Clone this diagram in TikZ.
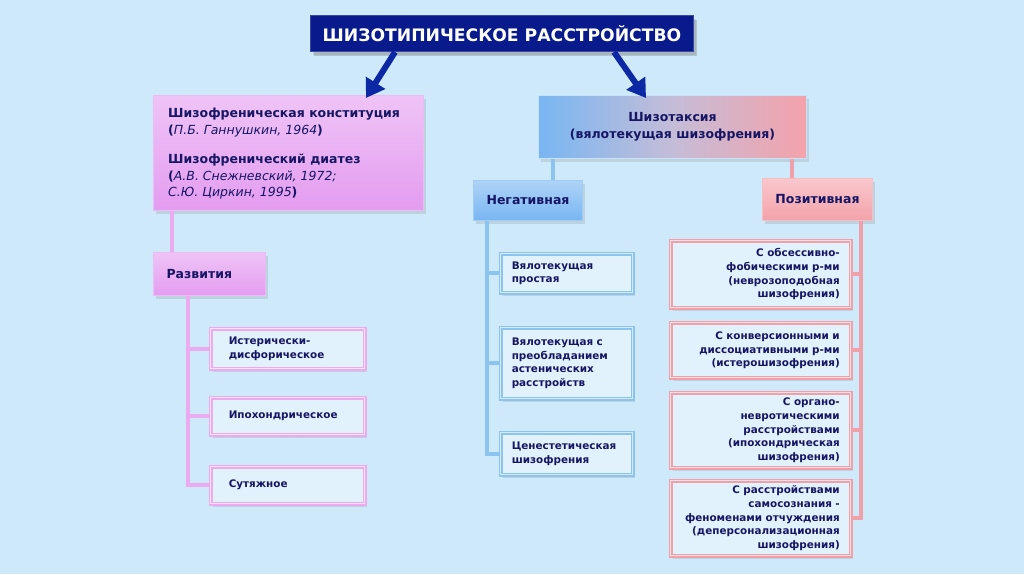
\documentclass[tikz,border=0pt]{standalone}
\usepackage{fontspec}
\setmainfont{DejaVu Sans}
\usetikzlibrary{shadows,arrows.meta,calc}
\definecolor{bg}{RGB}{206,234,250}
\definecolor{navy}{RGB}{22,22,100}
\definecolor{ttl}{RGB}{8,26,140}
\definecolor{arr}{RGB}{12,40,165}
\definecolor{pinkf}{RGB}{228,156,240}
\definecolor{pinkl}{RGB}{236,170,240}
\definecolor{bluef}{RGB}{120,182,242}
\definecolor{bluel}{RGB}{140,196,240}
\definecolor{rosef}{RGB}{244,162,170}
\definecolor{rosel}{RGB}{240,160,168}
\tikzset{
  base/.style={rectangle, inner sep=0pt, text=navy, anchor=north west,
    drop shadow={opacity=0.22, shadow xshift=2pt, shadow yshift=-3pt}},
  bigfont/.style={font=\bfseries\fontsize{12.5}{16.8}\selectfont},
  smallfont/.style={font=\bfseries\fontsize{10.4}{13.6}\selectfont},
  mainpink/.style={base, bigfont, top color=pinkf!60!white, bottom color=pinkf, draw=pinkf!70!white, line width=1pt},
  mainblue/.style={base, bigfont, top color=bluef!60!white, bottom color=bluef, draw=bluef!70!white, line width=1pt},
  mainrose/.style={base, bigfont, top color=rosef!60!white, bottom color=rosef, draw=rosef!70!white, line width=1pt},
  kidpink/.style={base, smallfont, fill=bg!60!white, draw=pinkl, double=pinkl!35!white, double distance=1.2pt, line width=1.5pt, align=left, inner xsep=18pt},
  kidblue/.style={base, smallfont, fill=bg!60!white, draw=bluel, double=bluel!35!white, double distance=1.2pt, line width=1.5pt, align=left, inner xsep=11pt},
  kidrose/.style={base, smallfont, fill=bg!60!white, draw=rosel, double=rosel!35!white, double distance=1.2pt, line width=1.5pt, align=right, inner xsep=11pt},
  pinkline/.style={draw=pinkl, line width=4pt},
  blueline/.style={draw=bluel, line width=4pt},
  roseline/.style={draw=rosel, line width=4pt},
  bigarrow/.style={draw=arr, line width=6pt, -{Triangle[length=18pt,width=22pt]}},
}
\begin{document}
\begin{tikzpicture}[x=1pt,y=-1pt]
\fill[bg] (0,0) rectangle (1024,574);
\useasboundingbox (0,0) rectangle (1024,574);

% title
\node[base, fill=ttl, draw=ttl!80!white, line width=1pt, text=white, minimum width=383pt, minimum height=36pt,
  font=\bfseries\fontsize{17.2}{20}\selectfont,
  drop shadow={opacity=0.35, shadow xshift=3pt, shadow yshift=-4pt}] (tt) at (310,15) {ШИЗОТИПИЧЕСКОЕ РАССТРОЙСТВО};

% left branch
\node[mainpink, minimum width=270pt, minimum height=115pt] (pk) at (153,95) {};
\node[text=navy, anchor=north west, inner sep=0pt, align=left, bigfont] (pkt) at (168,108) {%
Шизофреническая конституция\\
(\textmd{\itshape П.Б. Ганнушкин, 1964})\\[12pt]
Шизофренический диатез\\
(\textmd{\itshape А.В. Снежневский, 1972;}\\
\textmd{\itshape С.Ю. Циркин, 1995})};

\node[mainpink, minimum width=112pt, minimum height=43pt, align=left, text width=86pt, inner xsep=13pt] (rz) at (153,252) {Развития};

\node[kidpink, minimum height=40pt, text width=118pt] (c1) at (210,328) {Истерически-\\дисфорическое};
\node[kidpink, minimum height=37pt, text width=118pt] (c2) at (210,397) {Ипохондрическое};
\node[kidpink, minimum height=37pt, text width=118pt] (c3) at (210,466) {Сутяжное};

\draw[pinkline] ([xshift=19pt]pk.south west) -- ([xshift=19pt]rz.north west);
\coordinate (lt) at ([xshift=35pt]rz.south west);
\draw[pinkline] (lt) |- (c3.west);
\draw[pinkline] (c1.west) -- (c1.west -| lt);
\draw[pinkline] (c2.west) -- (c2.west -| lt);

% right branch
\node[base, bigfont, left color=bluef, right color=rosef, middle color=bluef!50!rosef!80!white, draw=white!60!bluef, line width=1pt,
  minimum width=268pt, minimum height=63pt, align=center] (sz) at (538,95) {Шизотаксия\\(вялотекущая шизофрения)};

\node[mainblue, minimum width=109pt, minimum height=40pt] (ng) at (473,180) {Негативная};
\node[mainrose, minimum width=110pt, minimum height=42pt] (pz) at (762,178) {Позитивная};

\draw[blueline] ([xshift=15pt]sz.south west) -- ([xshift=15pt]sz.south west |- ng.north);
\draw[roseline] ([xshift=-15pt]sz.south east) -- ([xshift=-15pt]sz.south east |- pz.north);

\node[kidblue, minimum height=39pt, text width=110pt] (b1) at (500,253) {Вялотекущая\\простая};
\node[kidblue, minimum height=71pt, text width=110pt] (b2) at (500,327) {Вялотекущая с\\преобладанием\\астенических\\расстройств};
\node[kidblue, minimum height=42pt, text width=110pt] (b3) at (500,432) {Ценестетическая\\шизофрения};

\coordinate (lb) at ([xshift=14pt]ng.south west);
\draw[blueline] (lb) |- (b3.west);
\draw[blueline] (b1.west) -- (b1.west -| lb);
\draw[blueline] (b2.west) -- (b2.west -| lb);

\node[kidrose, minimum height=67pt, text width=158pt] (r1) at (670,240) {С обсессивно-\\фобическими р-ми\\(неврозоподобная\\шизофрения)};
\node[kidrose, minimum height=55pt, text width=158pt] (r2) at (670,322) {С конверсионными и\\диссоциативными р-ми\\(истерошизофрения)};
\node[kidrose, minimum height=75pt, text width=158pt] (r3) at (670,392) {С органо-\\невротическими\\расстройствами\\(ипохондрическая\\шизофрения)};
\node[kidrose, minimum height=75pt, text width=158pt] (r4) at (670,480) {С расстройствами\\самосознания -\\феноменами отчуждения\\(деперсонализационная\\шизофрения)};

\coordinate (rb) at ([xshift=-12pt]pz.south east);
\draw[roseline] (rb) |- (r4.east);
\draw[roseline] (r1.east) -- (r1.east -| rb);
\draw[roseline] (r2.east) -- (r2.east -| rb);
\draw[roseline] (r3.east) -- (r3.east -| rb);

% arrows
\draw[bigarrow] ([xshift=85pt]tt.south west) -- ([xshift=-58pt,yshift=-3pt]pk.north east);
\draw[bigarrow] ([xshift=-80pt]tt.south east) -- ([xshift=108pt,yshift=-3pt]sz.north west);
\end{tikzpicture}
\end{document}
